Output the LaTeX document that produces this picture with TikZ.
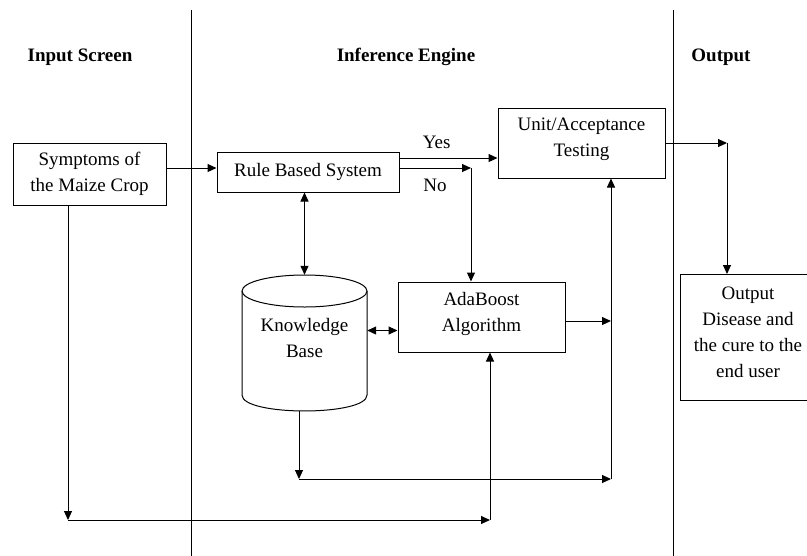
\documentclass[tikz,border=0pt]{standalone}
\usepackage{fontspec}
\setmainfont{Liberation Serif}
\usetikzlibrary{arrows.meta,calc}
\tikzset{
  conn/.style={draw, line width=1pt},
  arr/.style={conn, -{Triangle[length=9pt,width=8pt]}},
  darr/.style={conn, {Triangle[length=9pt,width=8pt]}-{Triangle[length=9pt,width=8pt]}},
  box/.style={draw, line width=1pt, rectangle, inner sep=0pt},
  txt/.style={align=center, inner sep=0pt, font=\fontsize{19}{26}\selectfont},
  head/.style={inner sep=0pt, font=\fontsize{19}{23}\selectfont\bfseries},
  sep/.style={draw, line width=1pt},
}
\begin{document}
\begin{tikzpicture}[x=1pt,y=-1pt]
\useasboundingbox (0,0) rectangle (807,555);
% separators
\draw[sep] (191,10) -- (191,556);
\draw[sep] (673,10) -- (673,556);
% headings
\node[head] (hin) at (80,57) {Input Screen};
\node[head] (hie) at (406,57) {Inference Engine};
\node[head] (hout) at (721,57) {Output};
% boxes
\node[box, txt, minimum width=153pt, minimum height=62pt] (sym) at (89.5,174) {Symptoms of\\the Maize Crop};
\node[box, txt, minimum width=182pt, minimum height=40pt] (rule) at (308,172) {Rule Based System};
\node[box, minimum width=167pt, minimum height=70pt] (unit) at (581.5,143) {};
\node[txt] (unitT) at (581.5,139) {Unit/Acceptance\\Testing};
\node[box, minimum width=167pt, minimum height=70pt] (ada) at (481.5,317) {};
\node[txt] (adaT) at (481.5,313.5) {AdaBoost\\Algorithm};
\node[box, minimum width=136pt, minimum height=126pt] (out) at (748,337.5) {};
\node[txt] (outT) at (748,332.5) {Output\\Disease and\\the cure to the\\end user};
% knowledge base cylinder
\node[inner sep=0pt, minimum width=125pt, minimum height=136pt] (kb) at (304.5,343) {};
\draw[conn] (304.5,291) ellipse [x radius=62.5, y radius=16];
\draw[conn] (242,291) -- (242,395) .. controls (242,416.3) and (367,416.3) .. (367,395) -- (367,291);
\node[txt] (kbT) at (304.5,337.5) {Knowledge\\Base};
% labels
\node[txt] (yes) at (436.7,142.5) {Yes};
\node[txt] (no) at (435,185) {No};
% coordinates
\coordinate (noC) at (471,168);
\coordinate (outC) at (727,143);
\coordinate (vC) at (611,321);
\coordinate (b1) at (299,479);
\coordinate (b2) at (611,479);
\coordinate (c1) at (68,520);
\coordinate (c2) at (490,520);
% connectors
\draw[arr] ([yshift=6pt]sym.east) -- ([yshift=4pt]rule.west);
\draw[arr] ([yshift=14pt]rule.east) -- ([yshift=-15pt]unit.west);
\draw[arr] ([yshift=4pt]rule.east) -- (noC);
\draw[arr] (noC) -- (noC |- ada.north);
\draw[arr] (unit.east) -- (outC);
\draw[arr] (outC) -- (outC |- out.north);
\draw[darr] (kb.north |- rule.south) -- (kb.north);
\draw[darr] ([yshift=12.5pt]kb.east) -- ([yshift=-13.5pt]ada.west);
\draw[arr] ([yshift=-4pt]ada.east) -- (vC);
\draw[arr] ([xshift=-5.5pt]kb.south) -- (b1);
\draw[arr] (b1) -- (b2);
\draw[arr] (b2) -- (b2 |- unit.south);
\draw[arr] ([xshift=-21.5pt]sym.south) -- (c1);
\draw[arr] (c1) -- (c2);
\draw[arr] (c2) -- (c2 |- ada.south);
\end{tikzpicture}
\end{document}
